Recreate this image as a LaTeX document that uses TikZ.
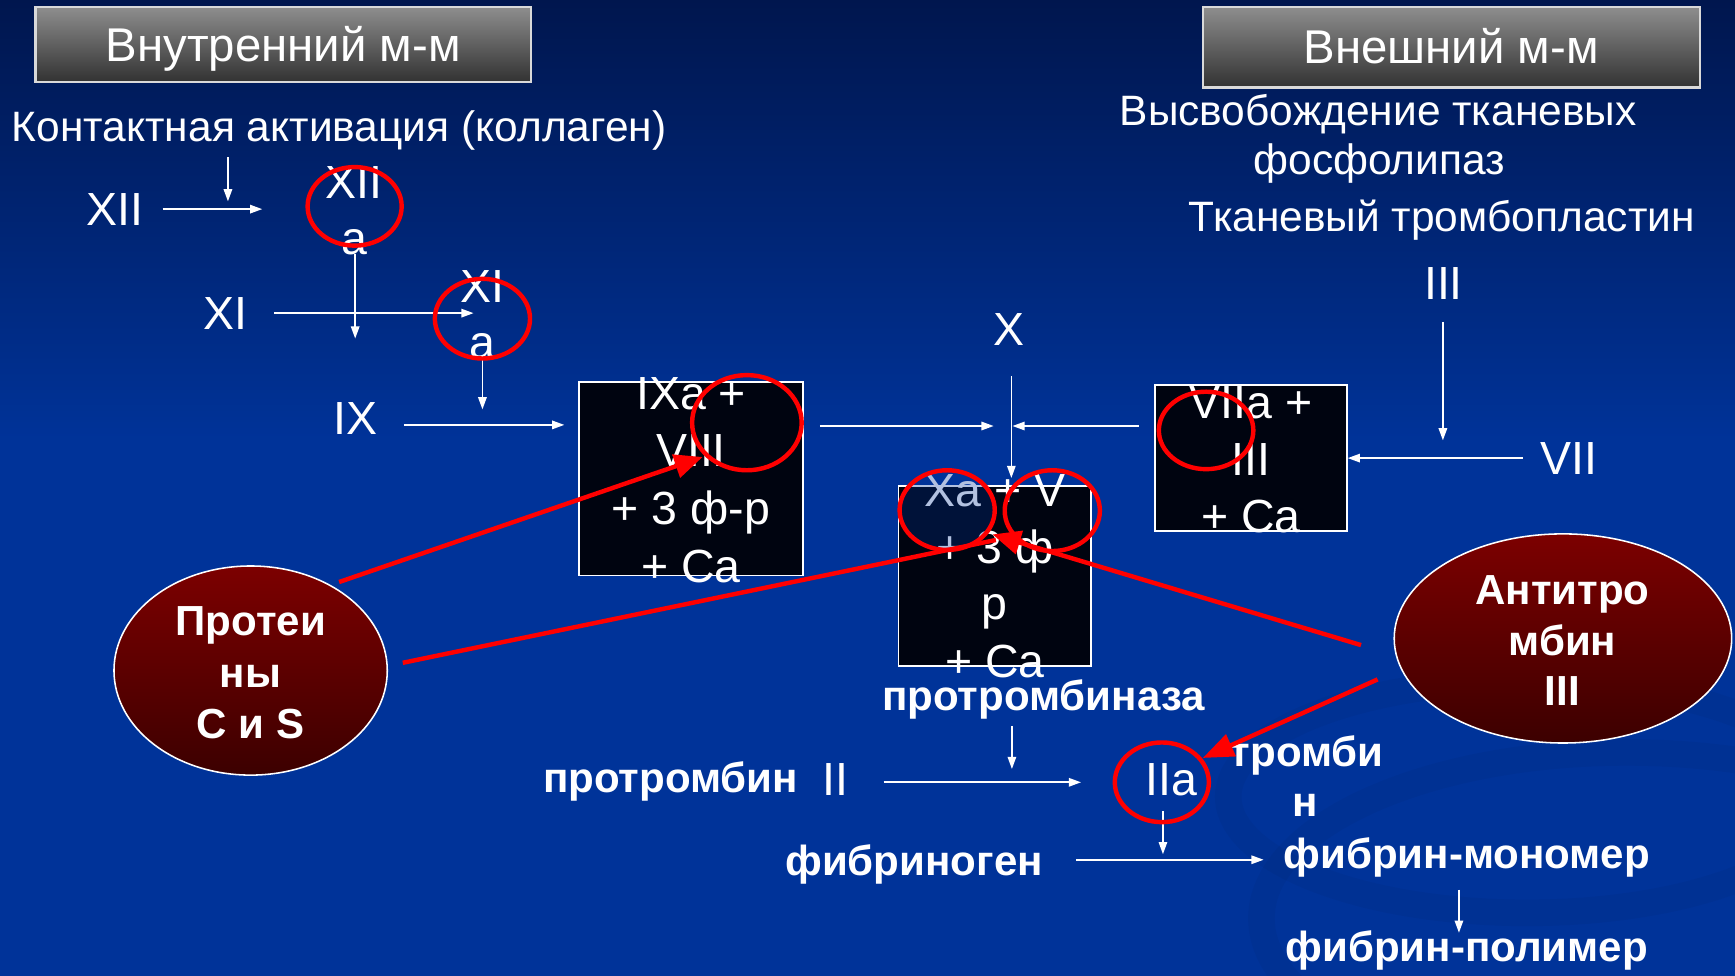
\documentclass[tikz,border=0pt]{standalone}
\usepackage{fontspec}
\setmainfont{Liberation Sans}
\usetikzlibrary{arrows.meta,shapes.geometric}

\definecolor{bgtop}{RGB}{0,22,78}
\definecolor{bgblue}{RGB}{0,51,153}
\definecolor{cellfill}{RGB}{0,4,16}
\definecolor{ringred}{RGB}{255,0,0}
\definecolor{ovaltop}{RGB}{124,0,0}
\definecolor{ovalbot}{RGB}{60,0,0}
\definecolor{hdrtop}{RGB}{142,142,142}
\definecolor{hdrbot}{RGB}{50,50,50}

\begin{document}
\begin{tikzpicture}[x=0.5pt,y=-0.5pt,
  txt/.style={text=white, inner sep=0pt, anchor=base, font=\fontsize{21}{25}\selectfont},
  side/.style={txt, font=\fontsize{19.2}{23}\selectfont},
  heavy/.style={txt, font=\fontsize{19}{23}\selectfont\bfseries},
  hdrbox/.style={draw=white!85!black, line width=1pt, top color=hdrtop, bottom color=hdrbot,
    text=white, font=\fontsize{21.4}{25}\selectfont, text height=15.3pt, text depth=0pt, inner sep=0pt},
  cell/.style={draw=white, line width=0.8pt, fill=cellfill, inner sep=0pt},
  ring/.style 2 args={ellipse, draw=ringred, line width=2pt, inner sep=0pt,
    minimum width=#1pt, minimum height=#2pt},
  oval/.style={ellipse, draw=white, line width=0.7pt, top color=ovaltop, bottom color=ovalbot, inner sep=0pt},
  flow/.style={draw=white, line width=0.75pt, -{Triangle[length=5.5pt,width=3.8pt]}},
  inhib/.style={draw=ringred, line width=2pt, -{Triangle[length=12.7pt,width=10.7pt]}},
  inhibline/.style={draw=ringred, line width=2pt},
]
\useasboundingbox (0,0) rectangle (1568,882);

% background
\fill[bgblue] (0,0) rectangle (1568,882);
\shade[top color=bgtop, bottom color=bgblue] (0,0) rectangle (1568,400);
\begin{scope}[black, opacity=0.035, line width=12pt]
  \draw (1380,720) ellipse (270 and 105);
  \draw (1470,830) ellipse (330 and 150);
\end{scope}

% headers
\node[hdrbox, minimum width=224pt, minimum height=34pt] (lhdr) at (256,40) {Внутренний м-м};
\node[hdrbox, minimum width=224.5pt, minimum height=36.5pt] (rhdr) at (1311.5,42.5) {Внешний м-м};

% side texts
\node[side] (contact) at (306.5,128) {Контактная активация (коллаген)};
\node[side] (rel1) at (1245.5,113) {Высвобождение тканевых};
\node[side] (rel2) at (1246.5,158) {фосфолипаз};
\node[side] (tpl) at (1303,209.5) {Тканевый тромбопластин};

% factors
\node[txt] (f12) at (103.5,204) {XII};
\node[txt] (f12a1) at (320,179) {XII};
\node[txt] (f12a2) at (320,230) {a};
\node[txt] (f11) at (204,298) {XI};
\node[txt] (f11a1) at (436,273) {XI};
\node[txt] (f11a2) at (436,324) {a};
\node[txt] (f9) at (321,393) {IX};
\node[txt] (f10) at (912,312) {X};
\node[txt] (f3) at (1304.5,271) {III};
\node[txt] (f7) at (1418,429) {VII};

% complexes
\node[cell, minimum width=101.5pt, minimum height=87.5pt] (tenase) at (624.5,432.5) {};
\node[txt] (ten1) at (624.5,370) {IXa +};
\node[txt] (ten2) at (624.5,422) {VIII};
\node[txt] (ten3) at (624.5,474) {+ 3 ф-р};
\node[txt] (ten4) at (624.5,526) {+ Ca};

\node[cell, minimum width=86.5pt, minimum height=66pt] (extc) at (1130.5,414) {};
\node[txt] (ext1) at (1130.5,378) {VIIa +};
\node[txt] (ext2) at (1130.5,429.5) {III};
\node[txt] (ext3) at (1130.5,481) {+ Ca};

\node[cell, minimum width=87pt, minimum height=81.5pt] (pase) at (899,520.5) {};
\node[txt] (pa1) at (899,458) {Xa + V};
\node[txt] (pa2) at (899,509) {+ 3 ф};
\node[txt] (pa3) at (899,560) {р};
\node[txt] (pa4) at (899,612) {+ Ca};

% common pathway
\node[heavy] (pasename) at (943,642) {протромбиназа};
\node[heavy] (prot) at (606,716.5) {протромбин};
\node[txt] (f2) at (755,719) {II};
\node[txt] (f2a) at (1058.5,719) {IIa};
\node[heavy] (thr1) at (1181,693) {тромби};
\node[heavy] (thr2) at (1180,738) {н};
\node[heavy] (fgen) at (826,791) {фибриноген};
\node[heavy] (fmono) at (1325.5,785) {фибрин-мономер};
\node[heavy] (fpoly) at (1325.5,869) {фибрин-полимер};

% inhibitors
\node[oval, minimum width=123.5pt, minimum height=94.5pt] (pcs) at (226.5,606) {};
\node[heavy] (pcs1) at (226.5,574) {Протеи};
\node[heavy] (pcs2) at (226.5,621) {ны};
\node[heavy] (pcs3) at (226.5,667) {C и S};
\node[oval, minimum width=152.5pt, minimum height=94.5pt] (at3) at (1412.5,577) {};
\node[heavy] (at1) at (1412,546) {Антитро};
\node[heavy] (at2) at (1412,592) {мбин};
\node[heavy] (at3t) at (1412,638) {III};

% flow arrows
\coordinate (a1s) at (206,142);   \coordinate (a1e) at (206,182);
\coordinate (a2s) at (147,189);   \coordinate (a2e) at (237,189);
\coordinate (a3s) at (321,230);   \coordinate (a3e) at (321,306);
\coordinate (a4s) at (248,283);   \coordinate (a4e) at (428,283);
\coordinate (a5s) at (436,324);   \coordinate (a5e) at (436,370);
\coordinate (a6s) at (365,384);   \coordinate (a6e) at (510,384);
\coordinate (a7s) at (741,385);   \coordinate (a7e) at (898,385);
\coordinate (a8s) at (914,340);   \coordinate (a8e) at (914,432);
\coordinate (a9s) at (1029,385);  \coordinate (a9e) at (915,385);
\coordinate (a10s) at (1304,291); \coordinate (a10e) at (1304,398);
\coordinate (a11s) at (1376,414); \coordinate (a11e) at (1218,414);
\coordinate (a12s) at (914.5,656); \coordinate (a12e) at (914.5,695);
\coordinate (a13s) at (798.5,707); \coordinate (a13e) at (977,707);
\coordinate (a14s) at (1051,733); \coordinate (a14e) at (1051,772);
\coordinate (a15s) at (972.5,777); \coordinate (a15e) at (1142,777);
\coordinate (a16s) at (1318.5,804); \coordinate (a16e) at (1318.5,843);
\foreach \i in {1,...,16} \draw[flow] (a\i s) -- (a\i e);

% activated factor rings
\node[ring={42.5}{35.5}] (r12a) at (320.5,186.5) {};
\node[ring={43}{36}] (r11a) at (436,288) {};
\node[ring={49.5}{43}] (r8) at (675,382) {};
\node[ring={42.7}{35}] (r7a) at (1090,389) {};
\node[ring={43}{36}, fill=bgblue, fill opacity=0.3] (r10a) at (856,461) {};
\node[ring={43}{36.5}] (r5) at (951,461.5) {};
\node[ring={42.5}{36}] (r2a) at (1050,707) {};

% inhibition arrows
\coordinate (i1s) at (306.5,526); \coordinate (i1e) at (635,413);
\coordinate (i2s) at (364,599);   \coordinate (i2e) at (900,488);
\coordinate (i3s) at (1230,583);  \coordinate (i3e) at (897,483);
\coordinate (i4s) at (1245,614);  \coordinate (i4e) at (1087,685);
\draw[inhib] (i1s) -- (i1e);
\draw[inhibline] (i2s) -- (i2e);
\draw[inhib] (i3s) -- (i3e);
\draw[inhib, -{Triangle[length=14pt,width=10.5pt]}] (i4s) -- (i4e);
\end{tikzpicture}
\end{document}
